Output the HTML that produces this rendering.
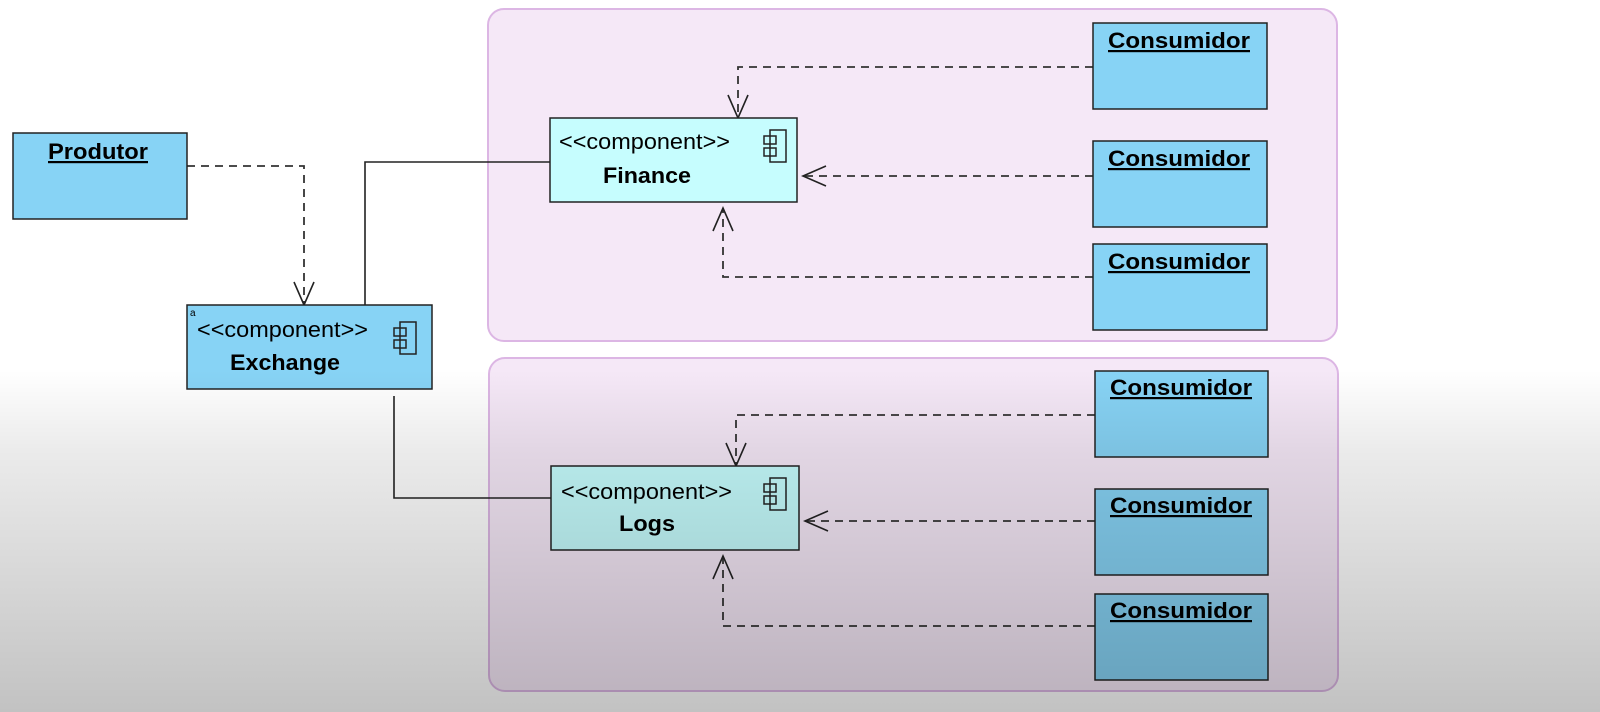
<!DOCTYPE html>
<html><head><meta charset="utf-8"><style>
html,body{margin:0;padding:0;background:#fff;}
#wrap{position:relative;width:1600px;height:712px;overflow:hidden;}
#ov{position:absolute;left:0;top:0;width:1600px;height:712px;background:linear-gradient(to bottom,rgba(0,0,0,0) 0px,rgba(0,0,0,0) 370px,rgba(0,0,0,0.08) 450px,rgba(0,0,0,0.24) 712px);pointer-events:none;}
text{font-family:"Liberation Sans",sans-serif;}
</style></head><body><div id="wrap">
<svg width="1600" height="712" xmlns="http://www.w3.org/2000/svg">
<defs>
<g id="ico"><rect x="6" y="0" width="16" height="32" fill="none" stroke="#222" stroke-width="1.5"/><rect x="0" y="6" width="12" height="8" fill="none" stroke="#222" stroke-width="1.5"/><rect x="0" y="18" width="12" height="8" fill="none" stroke="#222" stroke-width="1.5"/></g>
</defs>
<rect x="488" y="9" width="849" height="332" rx="16" fill="#f5e8f7" stroke="#dcb6e4" stroke-width="2"/>
<rect x="489" y="358" width="849" height="333" rx="16" fill="#f5e8f7" stroke="#dcb6e4" stroke-width="2"/>

<g stroke="#222" stroke-width="1.6" fill="none">
<path d="M365 305 V162 H550"/>
<path d="M394 396 V498 H551"/>
</g>
<g stroke="#333" stroke-width="1.8" fill="none" stroke-dasharray="8,6">
<path d="M187 166 H304 V303"/>
<path d="M1093 67 H738 V116"/>
<path d="M1093 176 H802"/>
<path d="M1093 277 H723 V208"/>
<path d="M1095 415 H736 V464"/>
<path d="M1095 521 H804"/>
<path d="M1095 626 H723 V556"/>
</g>
<g stroke="#222" stroke-width="1.6" fill="none">
<path d="M294 282 L304 305 L314 282"/>
<path d="M728 95 L738 118 L748 95"/>
<path d="M826 166 L803 176 L826 186"/>
<path d="M713 231 L723 208 L733 231"/>
<path d="M726 443 L736 466 L746 443"/>
<path d="M828 511 L805 521 L828 531"/>
<path d="M713 579 L723 556 L733 579"/>
</g>

<rect x="13" y="133" width="174" height="86" fill="#87d3f5" stroke="#222" stroke-width="1.5"/>
<text x="98" y="159" font-size="22" font-weight="bold" text-anchor="middle" text-decoration="underline" textLength="100" lengthAdjust="spacingAndGlyphs">Produtor</text>

<rect x="187" y="305" width="245" height="84" fill="#87d3f5" stroke="#222" stroke-width="1.5"/>
<text x="190" y="316" font-size="10">a</text>
<text x="197" y="337" font-size="22" textLength="171" lengthAdjust="spacingAndGlyphs">&lt;&lt;component&gt;&gt;</text>
<text x="230" y="370" font-size="22" font-weight="bold" textLength="110" lengthAdjust="spacingAndGlyphs">Exchange</text>
<use href="#ico" x="394" y="322"/>

<rect x="550" y="118" width="247" height="84" fill="#c6fdfe" stroke="#222" stroke-width="1.5"/>
<text x="559" y="149" font-size="22" textLength="171" lengthAdjust="spacingAndGlyphs">&lt;&lt;component&gt;&gt;</text>
<text x="603" y="183" font-size="22" font-weight="bold" textLength="88" lengthAdjust="spacingAndGlyphs">Finance</text>
<use href="#ico" x="764" y="130"/>

<rect x="551" y="466" width="248" height="84" fill="#c6fdfe" stroke="#222" stroke-width="1.5"/>
<text x="561" y="499" font-size="22" textLength="171" lengthAdjust="spacingAndGlyphs">&lt;&lt;component&gt;&gt;</text>
<text x="619" y="531" font-size="22" font-weight="bold" textLength="56" lengthAdjust="spacingAndGlyphs">Logs</text>
<use href="#ico" x="764" y="478"/>

<g fill="#87d3f5" stroke="#222" stroke-width="1.5">
<rect x="1093" y="23" width="174" height="86"/>
<rect x="1093" y="141" width="174" height="86"/>
<rect x="1093" y="244" width="174" height="86"/>
<rect x="1095" y="371" width="173" height="86"/>
<rect x="1095" y="489" width="173" height="86"/>
<rect x="1095" y="594" width="173" height="86"/>
</g>
<g font-size="22" font-weight="bold" text-anchor="middle" text-decoration="underline">
<text x="1179" y="48" textLength="142" lengthAdjust="spacingAndGlyphs">Consumidor</text>
<text x="1179" y="166" textLength="142" lengthAdjust="spacingAndGlyphs">Consumidor</text>
<text x="1179" y="269" textLength="142" lengthAdjust="spacingAndGlyphs">Consumidor</text>
<text x="1181" y="395" textLength="142" lengthAdjust="spacingAndGlyphs">Consumidor</text>
<text x="1181" y="513" textLength="142" lengthAdjust="spacingAndGlyphs">Consumidor</text>
<text x="1181" y="618" textLength="142" lengthAdjust="spacingAndGlyphs">Consumidor</text>
</g>
</svg>
<div id="ov"></div>
</div></body></html>
